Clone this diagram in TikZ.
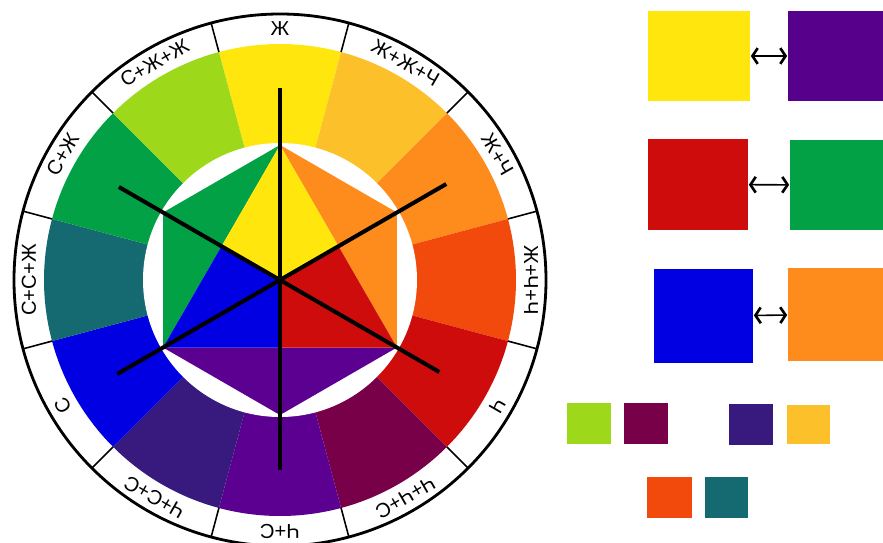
\documentclass[tikz,border=0pt]{standalone}
\usepackage{fontspec}
\setmainfont{Liberation Sans}
\usetikzlibrary{
    arrows.meta
}
% 色
\definecolor{cY}{HTML}{FFE60C}
\definecolor{cYO}{HTML}{FCC02A}
\definecolor{cO}{HTML}{FE8C1C}
\definecolor{cRO}{HTML}{F24A0C}
\definecolor{cR}{HTML}{CF0C0C}
\definecolor{cRV}{HTML}{780048}
\definecolor{cV}{HTML}{5C0092}
\definecolor{cBV}{HTML}{38197E}
\definecolor{cB}{HTML}{0000E2}
\definecolor{cBG}{HTML}{146A70}
\definecolor{cG}{HTML}{03A146}
\definecolor{cYG}{HTML}{9DD91A}
\tikzset{
  every path/.style={
    black,
    line width=1pt
  },
  wheellabel/.style={
    font=\fontsize{11.5}{14}\selectfont,
    inner sep=0pt
  },
  bigsq/.style={
    inner sep=0pt,
    minimum height=1.82cm
  },
  smallsq/.style={
    inner sep=0pt,
    minimum width=0.9cm,
    minimum height=0.82cm
  },
  pairarrow/.style={
    {Straight Barb[length=3pt,width=9pt,line width=1.5pt]}-{Straight Barb[length=3pt,width=9pt,line width=1.5pt]},
    line width=0.9pt
  }
}

\begin{document}
\begin{tikzpicture}[x=0.02cm,y=0.02cm]
    \useasboundingbox (-280,-262) rectangle (603,280);

    % 色相環の12区画
    \foreach \ang/\col in {90/cY,60/cYO,30/cO,0/cRO,-30/cR,-60/cRV,-90/cV,-120/cBV,-150/cB,180/cBG,150/cG,120/cYG}{
        \fill[\col] (0,0) -- (\ang-15:236) arc[start angle=\ang-15, end angle=\ang+15, radius=236] -- cycle;
    }
    \fill[white] (0,0) circle[radius=137];

    % 外側の帯と区切り
    \draw[line width=1.6pt] (0,0) circle[radius=266];
    \foreach \k in {0,...,11}{
        \draw[line width=0.9pt] (75-30*\k:236) -- (75-30*\k:266);
    }

    % 帯の文字
    \foreach \ang/\txt [count=\i] in {90/Ж,60/Ж+Ж+Ч,30/Ж+Ч,0/Ж+Ч+Ч,-30/Ч,-60/Ч+Ч+С,-90/Ч+С,-120/Ч+С+С,-150/С,180/С+С+Ж,150/С+Ж,120/С+Ж+Ж}{
        \node[wheellabel, rotate=\ang-90] (lab\i) at (\ang:251) {\txt};
    }

    % 中心の六角形
    \coordinate (O) at (0,0);
    \foreach \a in {90,30,-30,-90,-150,150}{
        \coordinate (V\a) at (\a:135);
    }
    \coordinate (M30) at (30:67.5);
    \coordinate (M150) at (150:67.5);
    \coordinate (Mdown) at (-90:67.5);
    \fill[cO] (V90) -- (V30) -- (V-30) -- cycle;
    \fill[cV] (V-30) -- (V-90) -- (V-150) -- cycle;
    \fill[cG] (V-150) -- (V150) -- (V90) -- cycle;
    \fill[cY] (V90) -- (M30) -- (O) -- (M150) -- cycle;
    \fill[cR] (V-30) -- (Mdown) -- (O) -- (M30) -- cycle;
    \fill[cB] (V-150) -- (M150) -- (O) -- (Mdown) -- cycle;

    % 三本の線
    \draw[line width=2.3pt] (90:192) -- (-90:190);
    \draw[line width=2.3pt] (150:186) -- (-30:184);
    \draw[line width=2.3pt] (30:192) -- (-150:188);

    % 補色の組
    \node[bigsq, fill=cY, minimum width=2.04cm] (yel) at (419,224) {};
    \node[bigsq, fill=cV!95!black, minimum width=1.9cm] (vio) at (555.5,224) {};
    \node[bigsq, fill=cR, minimum width=2cm] (red) at (418,95.5) {};
    \node[bigsq, fill=cG, minimum width=1.86cm] (grn) at (556.5,95) {};
    \node[bigsq, fill=cB, minimum width=1.98cm, minimum height=1.88cm] (blu) at (423.5,-36) {};
    \node[bigsq, fill=cO, minimum width=1.9cm, minimum height=1.86cm] (org) at (555.5,-34.5) {};
    \draw[pairarrow] (yel) -- (vio);
    \draw[pairarrow] (red) -- (grn);
    \draw[pairarrow] (blu) -- (org);

    % 小さい四角
    \node[smallsq, fill=cYG] (yg) at (309,-143.5) {};
    \node[smallsq, fill=cRV] (rv) at (366,-143.5) {};
    \node[smallsq, fill=cBV] (bv) at (471,-144) {};
    \node[smallsq, fill=cYO, minimum width=0.86cm, minimum height=0.78cm] (yo) at (528.5,-144.5) {};
    \node[smallsq, fill=cRO] (ro) at (389.5,-217.5) {};
    \node[smallsq, fill=cBG, minimum width=0.86cm] (bg) at (446.5,-217.5) {};
\end{tikzpicture}
\end{document}
